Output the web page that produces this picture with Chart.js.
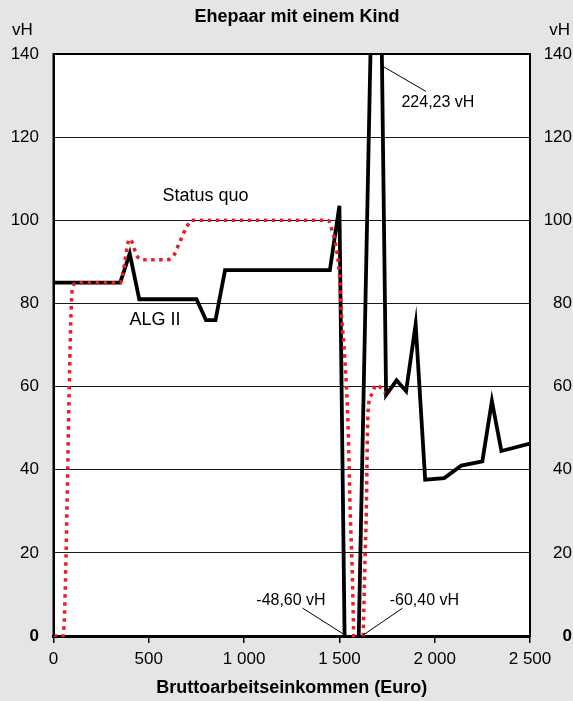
<!DOCTYPE html>
<html>
<head>
<meta charset="utf-8">
<style>
html,body{margin:0;padding:0;background:#e5e5e5;}
canvas{display:block;}
</style>
<script src="https://cdn.jsdelivr.net/npm/chart.js@4.4.1/dist/chart.umd.min.js"></script>
</head>
<body>
<canvas id="c" width="573" height="701"></canvas>
<script>
// ---- text ----
const titleText = 'Ehepaar mit einem Kind';
const xAxisTitle = 'Bruttoarbeitseinkommen (Euro)';
const unitLabel = 'vH';

// ---- ticks ----
const xTickValues = [0, 500, 1000, 1500, 2000, 2500];
const xTickLabels = ['0', '500', '1 000', '1 500', '2 000', '2 500'];
const yTickValues = [0, 20, 40, 60, 80, 100, 120, 140];
const yTickLabels = ['0', '20', '40', '60', '80', '100', '120', '140'];

// ---- series: ALG II (black solid) ----
const algIncome = [0, 350, 400, 450, 750, 800, 850, 900, 1450, 1500, 1540, 1580, 1700, 1745, 1800, 1850, 1900, 1950, 2050, 2140, 2250, 2300, 2350, 2500];
const algValues = [85, 85, 92, 81, 81, 76, 76, 88, 88, 103.5, -48.6, -48.6, 224.23, 58, 61.5, 58.9, 75, 37.6, 38, 41, 42, 56.5, 44.5, 46.3];

// ---- series: Status quo (red dotted) ----
const sqIncome = [0, 50, 100, 125, 350, 400, 440, 470, 590, 630, 660, 700, 725, 1440, 1465, 1485, 1500, 1510, 1528, 1546, 1556, 1567, 1575, 1600, 1625, 1633, 1642, 1647, 1651, 1668, 1695, 1740];
const sqValues = [0, 0, 84, 85, 85, 95.5, 91.3, 90.5, 90.5, 91.5, 94.5, 98.5, 100, 100, 97, 93, 87, 78, 67, 50, 31, 16, 0, -60.4, 0, 16, 32, 48, 54.4, 58, 60.4, 58.5];

// ---- annotations (data units) ----
const annotTexts = ['Status quo', 'ALG II', '224,23 vH', '-48,60 vH', '-60,40 vH'];
const annotX = [798, 532, 2017, 1246, 1946];
const annotY = [104.7, 74.8, 127.3, 7.5, 7.5];
const annotSize = [18, 18, 16, 16, 16];
const leaderX1 = [1729, 1307, 1831];
const leaderY1 = [137, 6.7, 6.7];
const leaderX2 = [1954, 1520, 1624];
const leaderY2 = [131, 0.5, 0.2];

const FONT = "'Liberation Sans', Arial, Helvetica, sans-serif";
Chart.defaults.font.family = FONT;
Chart.defaults.color = '#000';

const decor = {
  id: 'decor',
  beforeDraw(chart) {
    const {ctx, chartArea: a} = chart;
    ctx.save();
    ctx.fillStyle = '#e5e5e5';
    ctx.fillRect(0, 0, chart.width, chart.height);
    ctx.fillStyle = '#ffffff';
    ctx.fillRect(a.left, a.top, a.right - a.left, a.bottom - a.top);
    ctx.restore();
  },
  afterDatasetsDraw(chart) {
    const {ctx, chartArea: a, scales} = chart;
    const xs = scales.x, ys = scales.y;
    ctx.save();
    ctx.strokeStyle = '#000';
    ctx.lineWidth = 2;
    ctx.beginPath();
    ctx.moveTo(a.left, a.bottom);
    ctx.lineTo(a.left, a.top);
    ctx.lineTo(a.right, a.top);
    ctx.lineTo(a.right, a.bottom);
    ctx.stroke();
    ctx.lineWidth = 1;
    for (let i = 0; i < leaderX1.length; i++) {
      ctx.beginPath();
      ctx.moveTo(xs.getPixelForValue(leaderX1[i]), ys.getPixelForValue(leaderY1[i]));
      ctx.lineTo(xs.getPixelForValue(leaderX2[i]), ys.getPixelForValue(leaderY2[i]));
      ctx.stroke();
    }
    ctx.fillStyle = '#000';
    ctx.textAlign = 'center';
    ctx.textBaseline = 'alphabetic';
    for (let i = 0; i < annotTexts.length; i++) {
      ctx.font = annotSize[i] + 'px ' + FONT;
      ctx.fillText(annotTexts[i], xs.getPixelForValue(annotX[i]), ys.getPixelForValue(annotY[i]));
    }
    ctx.restore();
  },
  afterDraw(chart) {
    const {ctx} = chart;
    ctx.save();
    ctx.fillStyle = '#000';
    ctx.textBaseline = 'alphabetic';
    ctx.font = 'bold 18px ' + FONT;
    ctx.textAlign = 'center';
    ctx.fillText(titleText, 297, 21.5);
    ctx.font = '17px ' + FONT;
    ctx.textAlign = 'left';
    ctx.fillText(unitLabel, 12, 34.5);
    ctx.textAlign = 'right';
    ctx.fillText(unitLabel, 570, 34.5);
    ctx.restore();
  }
};

const yTickCb = (v) => { const i = yTickValues.indexOf(v); return i >= 0 ? yTickLabels[i] : ''; };
const yFont = (c) => (c.tick && c.tick.value === 0) ? {size: 17, weight: 'bold'} : {size: 17};
const clipArea = {left: 0, top: 0, right: 0, bottom: 1};

new Chart(document.getElementById('c'), {
  type: 'line',
  data: {
    datasets: [
      {
        label: 'Status quo',
        data: sqIncome.map((x, i) => ({x: x, y: sqValues[i]})),
        borderColor: '#ec1c24',
        borderWidth: 3.5,
        borderDash: [3.5, 4.5],
        borderCapStyle: 'butt',
        cubicInterpolationMode: 'monotone',
        pointRadius: 0,
        fill: false,
        clip: clipArea
      },
      {
        label: 'ALG II',
        data: algIncome.map((x, i) => ({x: x, y: algValues[i]})),
        borderColor: '#000',
        borderWidth: 3.8,
        tension: 0,
        borderJoinStyle: 'miter',
        pointRadius: 0,
        fill: false,
        clip: clipArea
      }
    ]
  },
  options: {
    responsive: false,
    devicePixelRatio: 1,
    animation: false,
    layout: {padding: {top: 54, left: 0, right: 1, bottom: 0}},
    plugins: {legend: {display: false}, tooltip: {enabled: false}, title: {display: false}},
    scales: {
      x: {
        type: 'linear',
        position: 'bottom',
        min: 0, max: 2500,
        afterFit(s) { s.height = 65; },
        afterBuildTicks(s) { s.ticks = xTickValues.map(v => ({value: v})); },
        ticks: {
          callback: (v) => { const i = xTickValues.indexOf(v); return i >= 0 ? xTickLabels[i] : ''; },
          font: {size: 17}, color: '#000', padding: 6, maxRotation: 0, autoSkip: false
        },
        grid: {drawOnChartArea: false, drawTicks: true, tickLength: 7, color: '#000', lineWidth: 1.5},
        border: {display: true, color: '#000', width: 3},
        title: {display: true, text: xAxisTitle, font: {size: 18, weight: 'bold'}, color: '#000', padding: {top: 0, bottom: 2}}
      },
      y: {
        type: 'linear',
        position: 'left',
        min: 0, max: 140,
        afterFit(s) { s.width = 53.5; },
        afterBuildTicks(s) { s.ticks = yTickValues.map(v => ({value: v})); },
        ticks: {callback: yTickCb, font: yFont, color: '#000', padding: 14.5},
        grid: {drawOnChartArea: true, drawTicks: false, color: '#1a1a1a', lineWidth: 1},
        border: {display: true, color: '#000', width: 2}
      },
      y2: {
        type: 'linear',
        position: 'right',
        min: 0, max: 140,
        afterFit(s) { s.width = 42; },
        afterBuildTicks(s) { s.ticks = yTickValues.map(v => ({value: v})); },
        ticks: {callback: yTickCb, font: yFont, color: '#000', padding: 0, crossAlign: 'far'},
        grid: {drawOnChartArea: false, drawTicks: false},
        border: {display: true, color: '#000', width: 2}
      }
    }
  },
  plugins: [decor]
});
</script>
</body>
</html>
